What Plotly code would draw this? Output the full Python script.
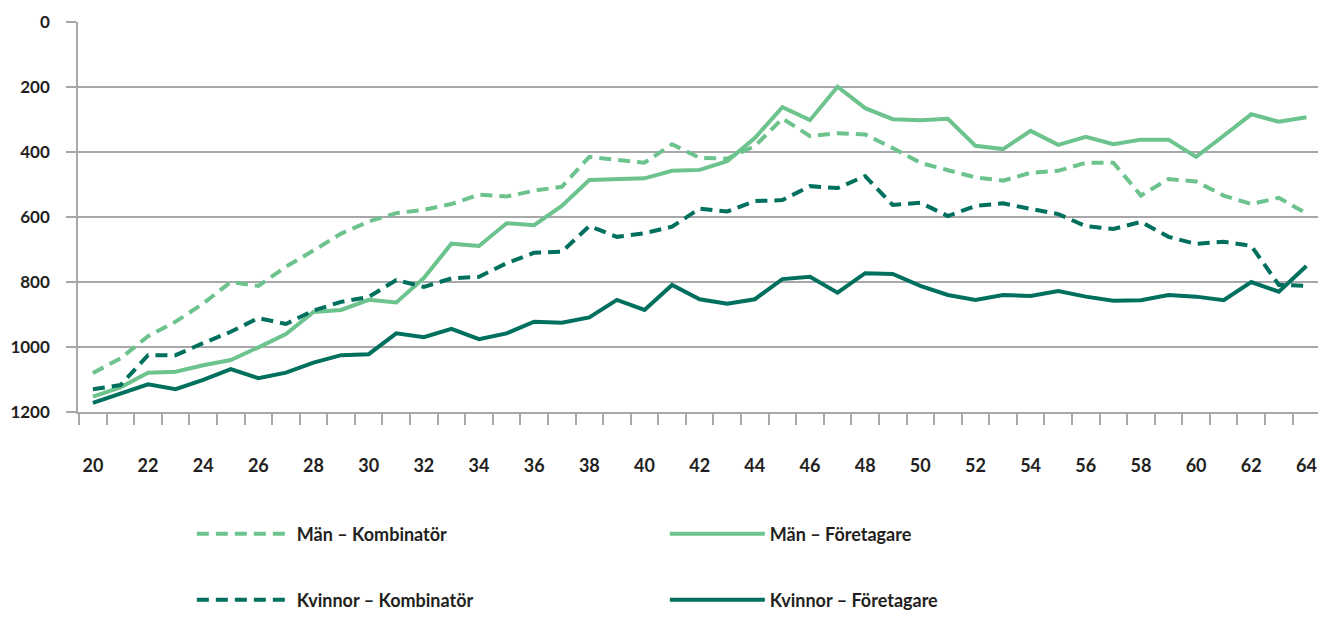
import plotly.graph_objects as go

ages = list(range(20, 65))

man_komb = [1080, 1035, 967, 922, 866, 800, 812, 753, 703, 651, 614, 588,
            578, 560, 531, 537, 519, 507, 415, 425, 433, 376, 418,
            420, 382, 297, 351, 342, 346, 388, 433, 456, 478, 488,
            464, 458, 433, 433, 534, 483, 491, 534, 560, 541, 589]
man_for = [1153, 1124, 1079, 1076, 1056, 1040, 1001, 960, 892, 886, 855, 863,
           788, 682, 689, 619, 625, 566, 486, 483, 481, 458, 455,
           428, 357, 262, 302, 199, 265, 299, 302, 298, 381, 391,
           335, 378, 353, 376, 362, 362, 415, 350, 284, 307, 293]
kv_komb = [1130, 1117, 1025, 1025, 988, 953, 911, 929, 888, 861, 846, 794,
           815, 789, 784, 742, 710, 707, 628, 661, 650, 630, 574,
           583, 551, 548, 505, 511, 474, 563, 556, 597, 566, 558,
           575, 591, 628, 637, 615, 661, 683, 676, 689, 809, 812]
kv_for = [1172, 1143, 1115, 1130, 1101, 1068, 1096, 1079, 1048, 1025, 1022, 958,
          970, 944, 976, 958, 922, 925, 909, 855, 886, 809, 853,
          867, 853, 791, 784, 833, 773, 775, 812, 840, 855, 840,
          843, 828, 845, 858, 856, 840, 845, 856, 800, 830, 751]

x_ticks = list(range(20, 65, 2))
y_ticks = [0, 200, 400, 600, 800, 1000, 1200]

light = "#6cc38d"
dark = "#00705e"
grid = "#a8a8aa"
txt = "#231f20"
dash = "12px,7px"

fig = go.Figure()
fig.add_trace(go.Scatter(x=ages, y=man_komb, mode="lines", name="Män – Kombinatör",
                         line=dict(color=light, width=4, dash=dash), legend="legend"))
fig.add_trace(go.Scatter(x=ages, y=man_for, mode="lines", name="Män – Företagare",
                         line=dict(color=light, width=4), legend="legend"))
fig.add_trace(go.Scatter(x=ages, y=kv_komb, mode="lines", name="Kvinnor – Kombinatör",
                         line=dict(color=dark, width=4, dash=dash), legend="legend2"))
fig.add_trace(go.Scatter(x=ages, y=kv_for, mode="lines", name="Kvinnor – Företagare",
                         line=dict(color=dark, width=4), legend="legend2"))

leg = dict(orientation="h", x=0.0918, xanchor="left", yanchor="middle",
           entrywidth=363, entrywidthmode="pixels", itemwidth=95,
           font=dict(family="Lato", size=18, color=txt, weight="bold"),
           bgcolor="rgba(0,0,0,0)")

# page body has an 8px margin, keep the figure inside the window
fig.update_layout(
    width=1310, height=602,
    margin=dict(l=70, r=0, t=14, b=198, autoexpand=False),
    plot_bgcolor="white", paper_bgcolor="white",
    font=dict(family="Lato", size=18, color=txt, weight="bold"),
    legend=dict(leg, y=-0.313),
    legend2=dict(leg, y=-0.482),
    xaxis=dict(range=[19.46, 64.42], tickmode="array", tickvals=x_ticks,
               ticks="", showgrid=False, zeroline=False, automargin=False,
               showline=True, linecolor=grid, linewidth=1.5,
               ticklabelstandoff=37, ticklabeloverflow="allow",
               minor=dict(tickmode="linear", tick0=19.5, dtick=1, ticks="outside",
                          ticklen=11, tickcolor=grid, tickwidth=1.5, showgrid=False)),
    yaxis=dict(range=[1200, 0], tickmode="array", tickvals=y_ticks,
               showgrid=True, gridcolor=grid, gridwidth=1.5, zeroline=False,
               showline=True, linecolor=grid, linewidth=1.5, automargin=False,
               ticks="outside", ticklen=10, tickcolor=grid, tickwidth=1.5,
               ticklabelstandoff=13, tickfont=dict(size=17)),
)

fig.write_html("out.html")
